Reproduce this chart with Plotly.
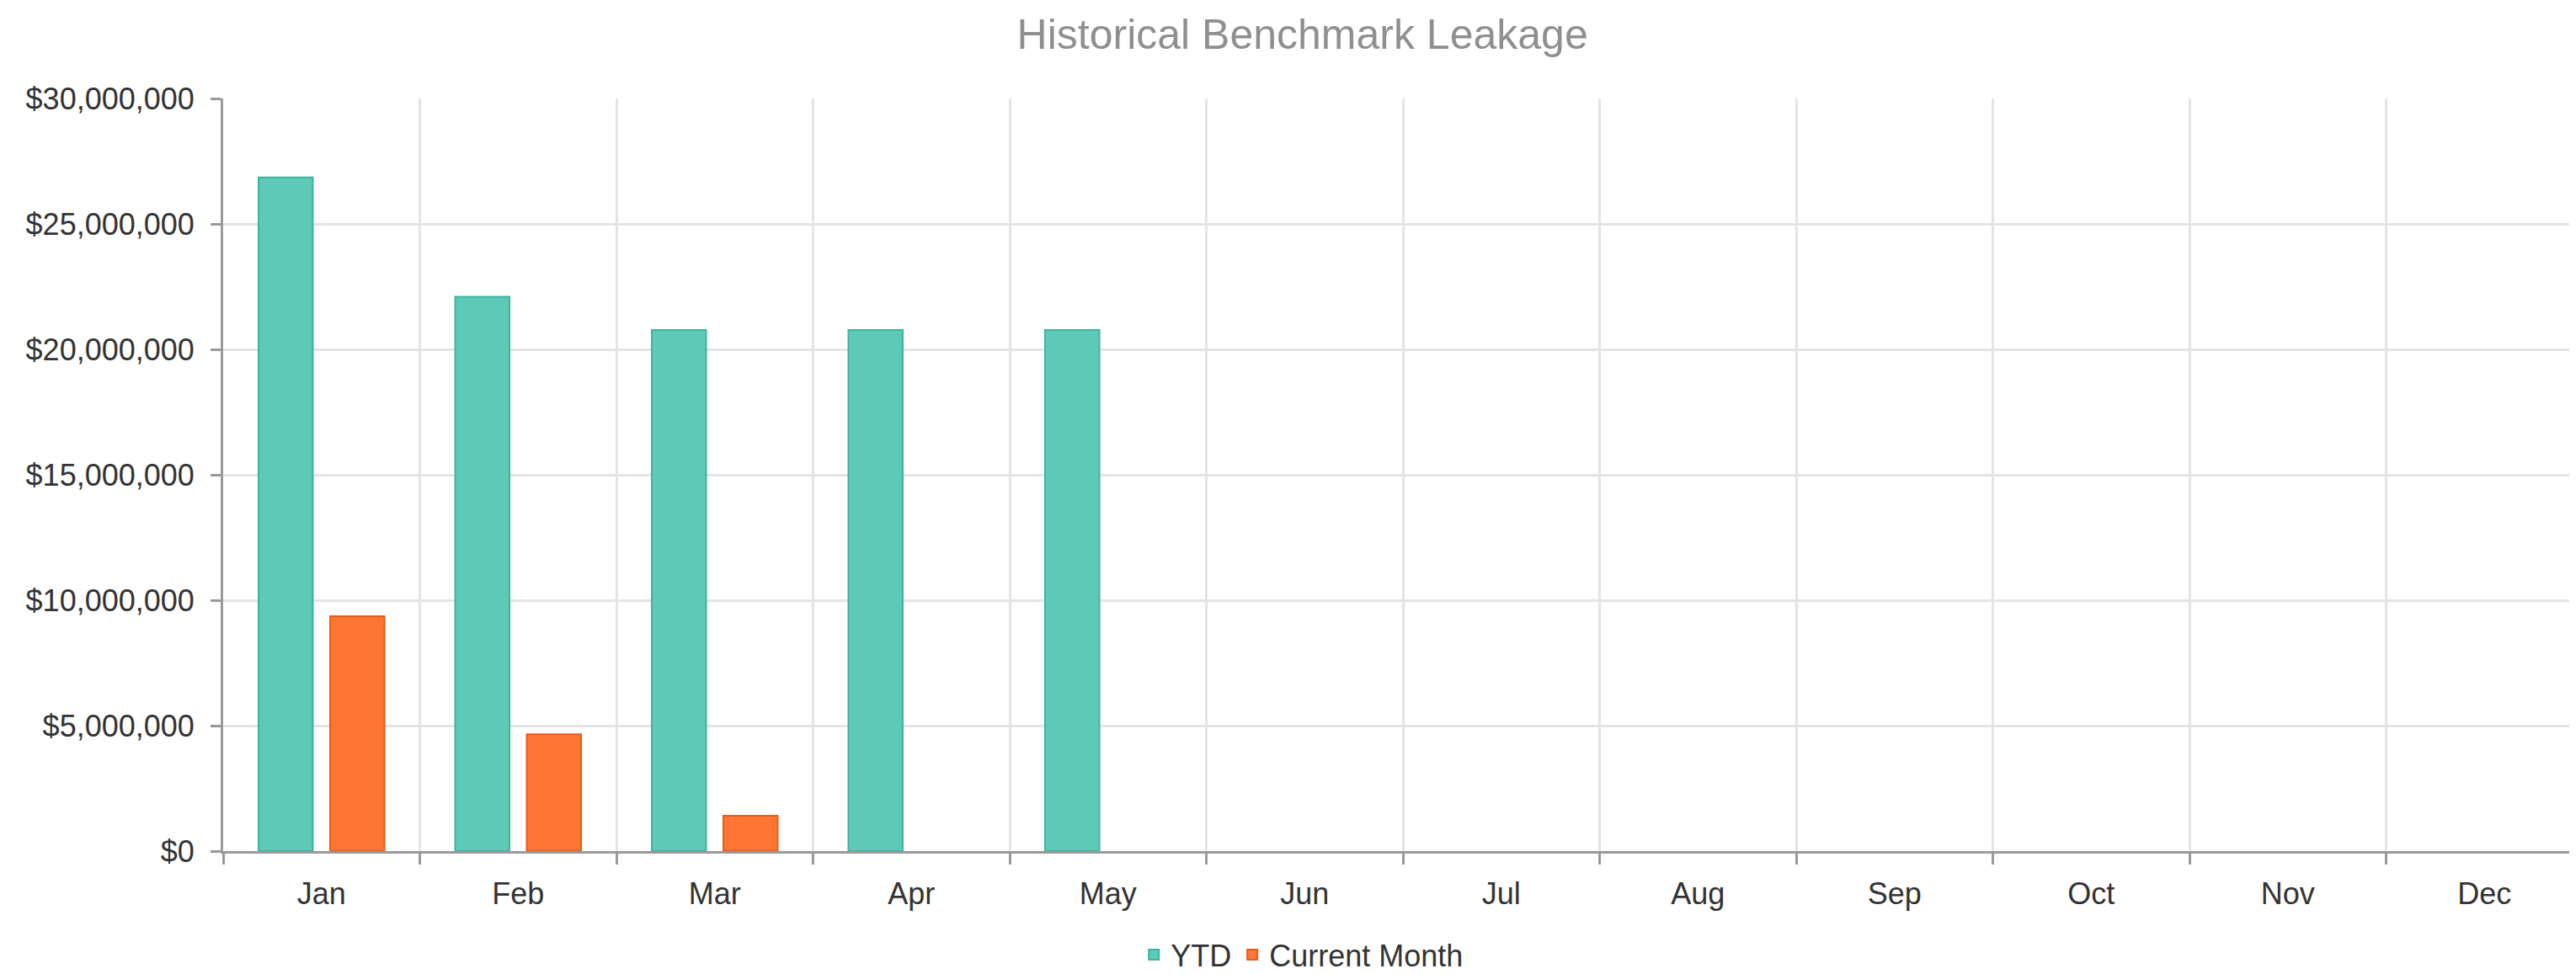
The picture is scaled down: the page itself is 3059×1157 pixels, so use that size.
import plotly.graph_objects as go

months = ["Jan", "Feb", "Mar", "Apr", "May", "Jun", "Jul", "Aug", "Sep", "Oct", "Nov", "Dec"]
ytd = [26850000, 22100000, 20770000, 20770000, 20770000, None, None, None, None, None, None, None]
current_month = [9360000, 4660000, 1410000, None, None, None, None, None, None, None, None, None]
y_ticks = [0, 5000000, 10000000, 15000000, 20000000, 25000000, 30000000]

W, H = 3059, 1157
FONT = "Liberation Sans, Arial, sans-serif"
TICK_SIZE = 36

fig = go.Figure()
fig.add_trace(go.Bar(
    x=months, y=ytd, name="YTD",
    marker=dict(color="#5ccab6", line=dict(color="#40b39d", width=2)),
))
fig.add_trace(go.Bar(
    x=months, y=current_month, name="Current Month",
    marker=dict(color="#ff7634", line=dict(color="#e85c18", width=2)),
))

fig.update_layout(
    width=W, height=H,
    paper_bgcolor="white", plot_bgcolor="white",
    margin=dict(l=257, r=0, t=109, b=154),
    barmode="group", bargap=0.272, bargroupgap=0.241,
    font=dict(family=FONT, size=TICK_SIZE, color="#333333"),
    title=dict(text="Historical Benchmark Leakage", x=0.503, xanchor="center",
               y=1 - 32 / H, yanchor="middle", yref="container",
               font=dict(family=FONT, size=50, color="#8f8f8f")),
    legend=dict(orientation="h", x=0.503, xanchor="center", xref="container",
                y=31 / H, yanchor="middle", yref="container",
                font=dict(family=FONT, size=TICK_SIZE, color="#333333"),
                itemwidth=30, tracegroupgap=0),
    showlegend=True,
)
fig.update_xaxes(
    type="category", categoryorder="array", categoryarray=months,
    range=[-0.5, 11.5],
    showgrid=True, gridcolor="#e4e4e4", gridwidth=2.5,
    tickson="boundaries", ticks="outside", ticklen=13, tickwidth=3, tickcolor="#9a9a9a",
    showline=True, linecolor="#9a9a9a", linewidth=3,
    tickfont=dict(family=FONT, size=TICK_SIZE, color="#333333"),
    ticklabelstandoff=17,
)
fig.update_yaxes(
    range=[0, 30000000], tickvals=y_ticks, tickformat="$,.0f",
    showgrid=True, gridcolor="#e4e4e4", gridwidth=2.5, zeroline=False,
    ticks="outside", ticklen=12, tickwidth=3, tickcolor="#9a9a9a",
    showline=True, linecolor="#9a9a9a", linewidth=3,
    tickfont=dict(family=FONT, size=TICK_SIZE, color="#333333"),
    ticklabelstandoff=12,
)

fig.write_html("out.html")
